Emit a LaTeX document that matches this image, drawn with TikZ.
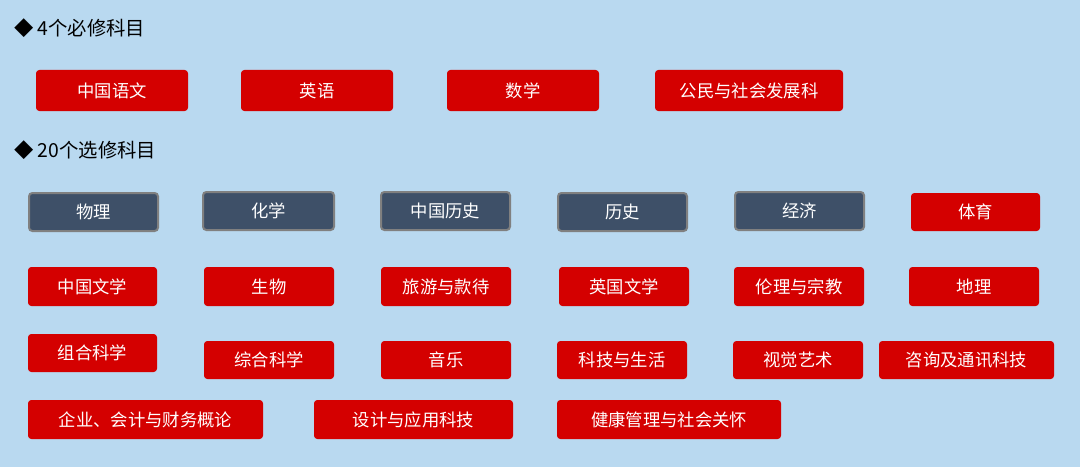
\documentclass[tikz,border=0pt]{standalone}
\usepackage{fontspec}
\setmainfont{Noto Sans CJK SC}
\definecolor{bg}{HTML}{B9D9F0}
\definecolor{rd}{HTML}{D40000}
\definecolor{dk}{HTML}{3E5068}
\definecolor{gb}{HTML}{808080}
\tikzset{
 rbox/.style={fill=rd,draw=none,rounded corners=2.5pt,text=white,font=\fontsize{13pt}{15pt}\selectfont,inner sep=0pt},
 dbox/.style={fill=dk,draw=gb,line width=1.5pt,rounded corners=2.5pt,text=white,font=\fontsize{13pt}{15pt}\selectfont,inner sep=0pt},
 head/.style={anchor=west,font=\fontsize{14.5pt}{17pt}\selectfont,text=black,inner sep=0pt}
}
\newcommand{\bx}[7]{\node[#6,minimum width={(#3-#2)*0.75pt},minimum height={(#5-#4)*0.75pt}] (#1) at ({(#2+#3)/2},{(#4+#5)/2}) {#7};}
\begin{document}
\begin{tikzpicture}[x=0.75pt,y=-0.75pt]
\fill[bg] (0,0) rectangle (1080,467);
\useasboundingbox (0,0) rectangle (1080,467);
\node[head] (h1) at (14,28) {◆ 4个必修科目};
\node[head] (h2) at (14,150) {◆ 20个选修科目};
\bx{a1}{36}{188}{70}{111}{rbox}{中国语文}
\bx{a2}{241}{393}{70}{111}{rbox}{英语}
\bx{a3}{447}{599}{70}{111}{rbox}{数学}
\bx{a4}{655}{843}{70}{111}{rbox}{公民与社会发展科}
\bx{b1}{29}{158}{193}{231}{dbox}{物理}
\bx{b2}{203}{334}{192}{230}{dbox}{化学}
\bx{b3}{381}{510}{192}{230}{dbox}{中国历史}
\bx{b4}{558}{687}{193}{231}{dbox}{历史}
\bx{b5}{735}{864}{192}{230}{dbox}{经济}
\bx{b6}{911}{1040}{193}{231}{rbox}{体育}
\bx{c1}{28}{157}{267}{306}{rbox}{中国文学}
\bx{c2}{204}{334}{267}{306}{rbox}{生物}
\bx{c3}{381}{511}{267}{306}{rbox}{旅游与款待}
\bx{c4}{559}{689}{267}{306}{rbox}{英国文学}
\bx{c5}{734}{864}{267}{306}{rbox}{伦理与宗教}
\bx{c6}{909}{1039}{267}{306}{rbox}{地理}
\bx{d1}{28}{157}{334}{372}{rbox}{组合科学}
\bx{d2}{204}{334}{341}{379}{rbox}{综合科学}
\bx{d3}{381}{511}{341}{379}{rbox}{音乐}
\bx{d4}{557}{687}{341}{379}{rbox}{科技与生活}
\bx{d5}{733}{863}{341}{379}{rbox}{视觉艺术}
\bx{d6}{879}{1054}{341}{379}{rbox}{咨询及通讯科技}
\bx{e1}{28}{263}{400}{439}{rbox}{企业、会计与财务概论}
\bx{e2}{314}{513}{400}{439}{rbox}{设计与应用科技}
\bx{e3}{557}{781}{400}{439}{rbox}{健康管理与社会关怀}
\end{tikzpicture}
\end{document}
